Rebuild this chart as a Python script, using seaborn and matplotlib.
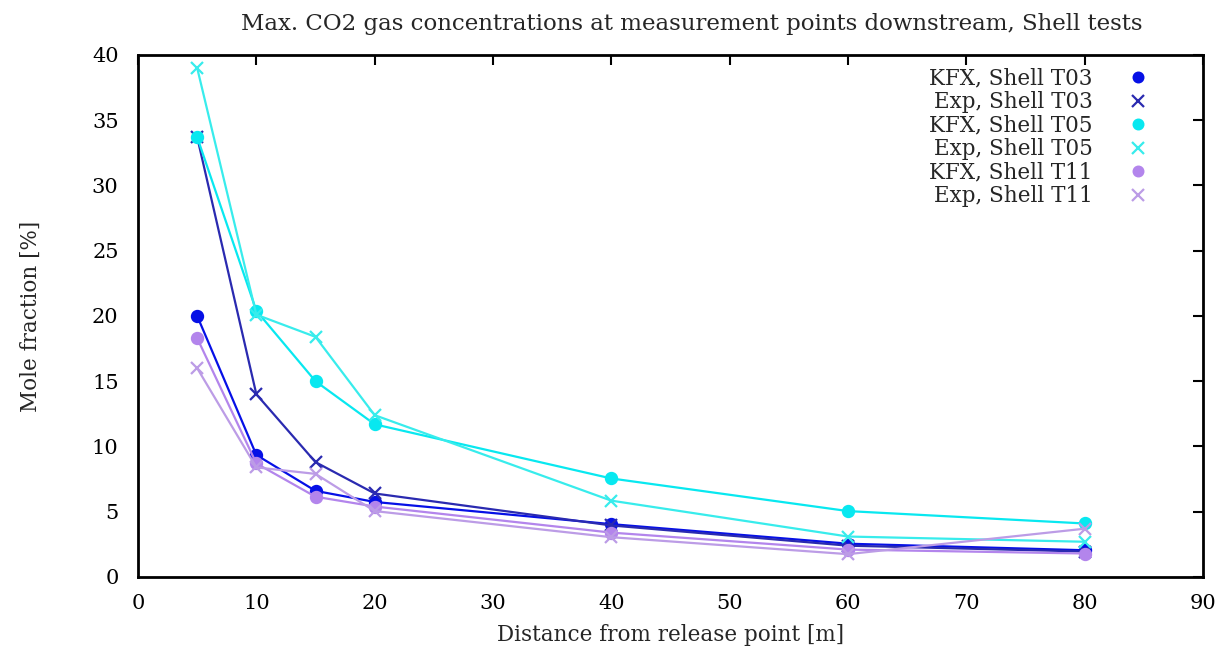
import numpy as np
import pandas as pd
import matplotlib
matplotlib.use("Agg")
import matplotlib.pyplot as plt
from matplotlib.lines import Line2D
import seaborn as sns

distance = [5, 10, 15, 20, 40, 60, 80]
kfx_t03 = [20.0, 9.35, 6.6, 5.75, 4.05, 2.55, 2.05]
exp_t03 = [33.7, 14.0, 8.8, 6.4, 3.95, 2.4, 1.95]
kfx_t05 = [33.7, 20.4, 15.0, 11.7, 7.55, 5.05, 4.1]
exp_t05 = [39.0, 20.1, 18.4, 12.4, 5.85, 3.1, 2.7]
kfx_t11 = [18.3, 8.7, 6.15, 5.4, 3.4, 2.1, 1.8]
exp_t11 = [16.0, 8.4, 7.9, 5.05, 3.05, 1.75, 3.7]

labels = ["KFX, Shell T03", "Exp, Shell T03", "KFX, Shell T05",
          "Exp, Shell T05", "KFX, Shell T11", "Exp, Shell T11"]
series = [kfx_t03, exp_t03, kfx_t05, exp_t05, kfx_t11, exp_t11]
colors = ["#0610e6", "#2a2ab0", "#08e8f0", "#38ecec", "#b385ec", "#bc9ce6"]
markers = ["o", "x", "o", "x", "o", "x"]

sns.set_style("white")
plt.rcParams['font.family'] = ['DejaVu Serif', 'Liberation Serif']

fig = plt.figure(figsize=(12.28, 6.53), dpi=100)
ax = fig.add_axes([0.1124, 0.1164, 0.8672, 0.7994])

handles = []
for lab, vals, col, mk in zip(labels, series, colors, markers):
    df = pd.DataFrame({"x": distance, "y": vals})
    ms = 8 if mk == "o" else 9
    sns.lineplot(data=df, x="x", y="y", ax=ax, color=col, linewidth=1.6,
                 marker=mk, markersize=ms, markeredgewidth=1.6,
                 markeredgecolor=col, legend=False)
    handles.append(Line2D([], [], color=col, marker=mk, linestyle="none",
                          markersize=ms - 1, markeredgewidth=1.6))

ax.set_xlim(0, 90)
ax.set_ylim(0, 40)
ax.set_xticks(np.arange(0, 91, 10))
ax.set_yticks(np.arange(0, 41, 5))
ax.tick_params(direction="in", length=7, width=1.5, top=True, right=True,
               labelsize=15, colors="black")
ax.tick_params(axis="y", pad=14)
ax.tick_params(axis="x", pad=12)
for sp in ax.spines.values():
    sp.set_visible(True)
    sp.set_color("black")
    sp.set_linewidth(2)

ax.set_xlabel("Distance from release point [m]", fontsize=15.5, labelpad=8)
ax.set_ylabel("Mole fraction [%]", fontsize=15.5, labelpad=36)
ax.set_title("Max. CO2 gas concentrations at measurement points downstream, Shell tests",
             fontsize=16.5, pad=18, x=0.52)

leg = ax.legend(handles, labels, loc="upper right", frameon=False,
                markerfirst=False, fontsize=15.5, handlelength=1.2,
                handletextpad=1.5, labelspacing=0.07, borderaxespad=0.2,
                bbox_to_anchor=(0.963, 1.0))
for t in leg.get_texts():
    t.set_ha("right")

fig.savefig("out.png", dpi=100)
